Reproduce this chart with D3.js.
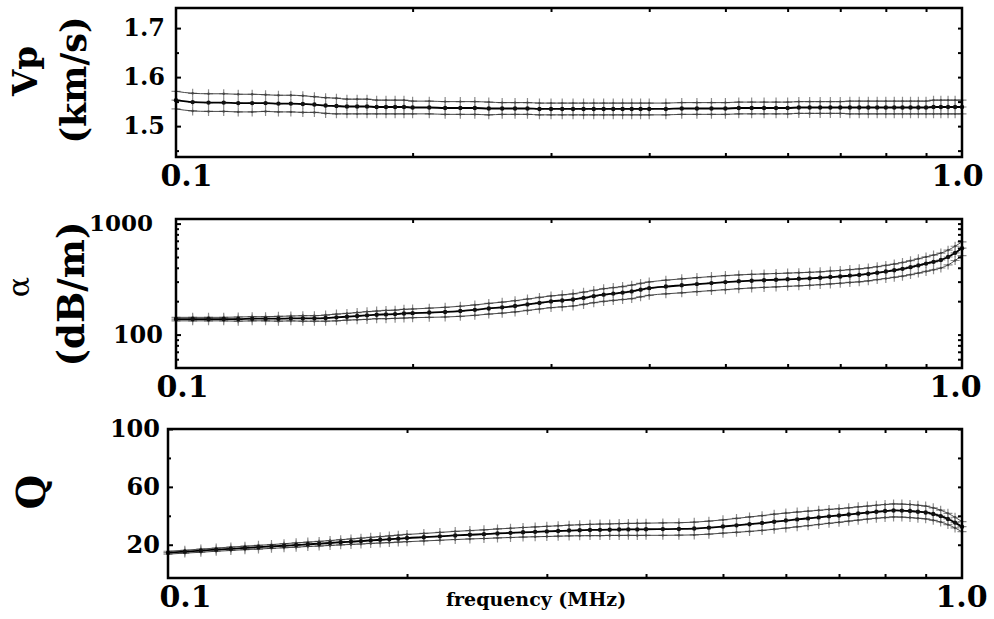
<!DOCTYPE html>
<html>
<head>
<meta charset="utf-8">
<script src="https://cdn.jsdelivr.net/npm/d3@7/dist/d3.min.js"></script>
<style>
  body { margin: 0; background: #fff; }
  svg text { font-family: "DejaVu Serif", serif; font-weight: bold; fill: #000; }
</style>
</head>
<body>
<svg id="chart"></svg>
<script>
// Frequencies of the measured points (MHz)
var freqs = [0.100, 0.105, 0.110, 0.115, 0.120, 0.125, 0.130, 0.135, 0.140, 0.145, 0.150,
  0.155, 0.160, 0.165, 0.170, 0.175, 0.180, 0.185, 0.190, 0.195, 0.200,
  0.21, 0.22, 0.23, 0.24, 0.25, 0.26, 0.27, 0.28, 0.29, 0.30,
  0.31, 0.32, 0.33, 0.34, 0.35, 0.36, 0.37, 0.38, 0.39, 0.40,
  0.42, 0.44, 0.46, 0.48, 0.50, 0.52, 0.54, 0.56, 0.58, 0.60,
  0.62, 0.64, 0.66, 0.68, 0.70, 0.72, 0.74, 0.76, 0.78, 0.80,
  0.82, 0.84, 0.86, 0.88, 0.90, 0.92, 0.94, 0.96, 0.98, 1.00];

// Phase velocity (km/s) and its error
var vpValues = [1.553, 1.549, 1.548, 1.548, 1.547, 1.547, 1.547, 1.546, 1.546, 1.545, 1.544,
  1.542, 1.541, 1.540, 1.540, 1.540, 1.539, 1.539, 1.539, 1.539, 1.538,
  1.538, 1.537, 1.537, 1.537, 1.536, 1.536, 1.536, 1.536, 1.535, 1.535,
  1.535, 1.535, 1.535, 1.535, 1.535, 1.535, 1.535, 1.535, 1.535, 1.535,
  1.535, 1.536, 1.536, 1.536, 1.536, 1.537, 1.537, 1.537, 1.537, 1.537,
  1.538, 1.538, 1.538, 1.538, 1.538, 1.538, 1.538, 1.538, 1.538, 1.538,
  1.538, 1.538, 1.538, 1.538, 1.538, 1.539, 1.539, 1.539, 1.539, 1.539];
var vpErrors = [0.018, 0.018, 0.018, 0.018, 0.018, 0.018, 0.017, 0.017, 0.017, 0.017, 0.016,
  0.016, 0.016, 0.015, 0.015, 0.015, 0.014, 0.014, 0.014, 0.014, 0.013,
  0.013, 0.013, 0.013, 0.013, 0.013, 0.012, 0.012, 0.012, 0.012, 0.012,
  0.012, 0.012, 0.012, 0.012, 0.012, 0.012, 0.012, 0.012, 0.012, 0.012,
  0.012, 0.012, 0.012, 0.012, 0.012, 0.012, 0.012, 0.012, 0.012, 0.012,
  0.012, 0.012, 0.012, 0.012, 0.012, 0.013, 0.013, 0.013, 0.013, 0.013,
  0.013, 0.013, 0.013, 0.013, 0.013, 0.014, 0.014, 0.014, 0.014, 0.014];

// Attenuation (dB/m) and its error
var alphaValues = [138, 138, 138, 138, 138, 139, 139, 139, 140, 140, 140,
  141, 143, 145, 147, 149, 151, 152, 153, 155, 156,
  158, 160, 163, 167, 172, 176, 181, 187, 193, 199,
  203, 207, 214, 222, 229, 234, 239, 245, 254, 262,
  271, 278, 285, 291, 297, 302, 306, 309, 312, 315,
  318, 321, 325, 330, 334, 340, 345, 352, 361, 370,
  380, 391, 405, 420, 436, 452, 470, 500, 545, 600];
var alphaErrors = [5, 5, 5, 5, 6, 6, 6, 7, 7, 8, 8,
  9, 10, 10, 11, 12, 12, 13, 13, 14, 14,
  15, 16, 17, 18, 19, 20, 21, 22, 23, 24,
  25, 26, 27, 28, 30, 31, 32, 34, 35, 36,
  38, 40, 41, 42, 43, 43, 43, 43, 43, 43,
  43, 43, 43, 44, 44, 45, 46, 47, 48, 50,
  52, 55, 58, 62, 65, 68, 72, 76, 80, 85];

// Quality factor and its error
var qValues = [14.5, 15.2, 15.9, 16.6, 17.2, 17.8, 18.3, 18.8, 19.3, 19.8, 20.3,
  20.7, 21.2, 21.7, 22.1, 22.5, 23.0, 23.4, 23.8, 24.2, 24.6,
  25.2, 25.8, 26.4, 26.9, 27.3, 27.8, 28.2, 28.6, 28.9, 29.2,
  29.5, 29.8, 30.0, 30.2, 30.3, 30.4, 30.5, 30.6, 30.6, 30.7,
  30.8, 30.9, 31.2, 31.8, 32.6, 33.4, 34.2, 35.0, 35.9, 36.7,
  37.5, 38.2, 38.9, 39.6, 40.2, 40.9, 41.6, 42.2, 42.8, 43.3,
  43.7, 43.6, 43.3, 42.8, 42.3, 41.2, 39.8, 37.8, 35.3, 32.5];
var qErrors = [1.0, 1.0, 1.1, 1.1, 1.2, 1.2, 1.3, 1.3, 1.4, 1.5, 1.5,
  1.6, 1.7, 1.8, 1.9, 2.0, 2.1, 2.2, 2.3, 2.4, 2.5,
  2.6, 2.7, 2.8, 2.9, 3.0, 3.1, 3.2, 3.3, 3.4, 3.5,
  3.6, 3.7, 3.8, 3.9, 4.0, 4.0, 4.1, 4.1, 4.2, 4.2,
  4.3, 4.3, 4.4, 4.5, 4.6, 4.8, 5.0, 5.1, 5.2, 5.2,
  5.1, 5.0, 4.9, 4.8, 4.7, 4.6, 4.6, 4.5, 4.5, 4.5,
  4.5, 4.5, 4.5, 4.5, 4.4, 4.3, 4.1, 3.9, 3.7, 3.5];

// Tick values
var freqLabelTicks = [0.1, 1.0];
var freqMinorTicks = [0.2, 0.3, 0.4, 0.5, 0.6, 0.7, 0.8, 0.9];
var vpTicks = [1.5, 1.6, 1.7];
var vpMinorTicks = [1.45, 1.55, 1.65];
var alphaTicks = [100, 1000];
var alphaMinorTicks = [60, 70, 80, 90, 200, 300, 400, 500, 600, 700, 800, 900];
var qTicks = [20, 60, 100];
var qMinorTicks = [40, 80];

var width = 994;
var height = 619;

var svg = d3.select('#chart')
  .attr('width', width)
  .attr('height', height);

// Plus-sign marker used for every measured point
var crossPath = 'M-4.5,0H4.5M0,-4.5V4.5';

/**
 * Draws one stacked panel (frame, ticks, curves with error markers).
 */
function drawPanel(p) {
  var x = d3.scaleLog().domain([0.1, 1.0]).range([p.left, p.right]);
  var y = p.y.range([p.bottom, p.top]);

  var rows = freqs.map(function(f, i) {
    return { f: f, v: p.values[i], e: p.errors[i] };
  });

  var g = svg.append('g').classed('panel', true);

  var line = function(acc) {
    return d3.line()
      .x(function(d) { return x(d.f); })
      .y(function(d) { return y(acc(d)); })
      .curve(d3.curveMonotoneX);
  };
  var hi = function(d) { return d.v + d.e; };
  var lo = function(d) { return d.v - d.e; };
  var mid = function(d) { return d.v; };

  // Upper and lower bounds: thin line + grey crosses
  [hi, lo, mid].forEach(function(acc) {
    g.selectAll(null)
      .data(rows)
      .enter()
      .append('path')
      .attr('d', crossPath)
      .attr('transform', function(d) { return 'translate(' + x(d.f) + ',' + y(acc(d)) + ')'; })
      .attr('stroke', '#8c8c8c')
      .attr('stroke-width', 1.2)
      .attr('fill', 'none');
  });

  [hi, lo].forEach(function(acc) {
    g.append('path')
      .datum(rows)
      .attr('d', line(acc))
      .attr('fill', 'none')
      .attr('stroke', '#333')
      .attr('stroke-width', 0.9);

    g.selectAll(null)
      .data(rows)
      .enter()
      .append('circle')
      .attr('cx', function(d) { return x(d.f); })
      .attr('cy', function(d) { return y(acc(d)); })
      .attr('r', 1.2)
      .attr('fill', '#444');
  });

  // Centre curve
  g.append('path')
    .datum(rows)
    .attr('d', line(mid))
    .attr('fill', 'none')
    .attr('stroke', '#000')
    .attr('stroke-width', 1.8);

  g.selectAll(null)
    .data(rows)
    .enter()
    .append('circle')
    .attr('cx', function(d) { return x(d.f); })
    .attr('cy', function(d) { return y(d.v); })
    .attr('r', 2.2)
    .attr('fill', '#111');

  // Frame
  g.append('rect')
    .attr('x', p.left)
    .attr('y', p.top)
    .attr('width', p.right - p.left)
    .attr('height', p.bottom - p.top)
    .attr('fill', 'none')
    .attr('stroke', '#000')
    .attr('stroke-width', 2.5);

  // Inward ticks on all four sides
  var cleanAxis = function(sel) {
    sel.select('.domain').remove();
    sel.selectAll('line').attr('stroke', '#000').attr('stroke-width', 2);
  };
  g.append('g')
    .attr('transform', 'translate(0,' + p.bottom + ')')
    .call(d3.axisBottom(x).tickValues(freqMinorTicks).tickSize(-4).tickFormat(''))
    .call(cleanAxis);
  g.append('g')
    .attr('transform', 'translate(0,' + p.top + ')')
    .call(d3.axisTop(x).tickValues(freqMinorTicks).tickSize(-4).tickFormat(''))
    .call(cleanAxis);
  g.append('g')
    .attr('transform', 'translate(' + p.left + ',0)')
    .call(d3.axisLeft(y).tickValues(p.minorTicks).tickSize(-3).tickFormat(''))
    .call(cleanAxis);
  g.append('g')
    .attr('transform', 'translate(' + p.right + ',0)')
    .call(d3.axisRight(y).tickValues(p.ticks.concat(p.minorTicks)).tickSize(-4).tickFormat(''))
    .call(cleanAxis);

  // Left axis with labels
  var leftAxis = g.append('g')
    .attr('transform', 'translate(' + p.left + ',0)')
    .call(d3.axisLeft(y).tickValues(p.ticks).tickSize(-5).tickPadding(p.labelPad).tickFormat(p.format))
    .call(cleanAxis);
  leftAxis.attr('font-family', null).attr('font-size', null);
  leftAxis.selectAll('text')
    .style('font-size', function(d) { return d >= 1000 ? '23px' : '24px'; })
    .attr('dx', function(d) { return d >= 1000 ? -10 : 0; });

  // Frequency labels 0.1 and 1.0
  var xAxis = g.append('g')
    .attr('transform', 'translate(0,' + p.bottom + ')')
    .call(d3.axisBottom(x).tickValues(freqLabelTicks).tickSize(0).tickPadding(8).tickFormat(d3.format('.1f')))
    .call(cleanAxis);
  xAxis.attr('font-family', null).attr('font-size', null);
  xAxis.selectAll('text')
    .style('font-size', '30px')
    .attr('dx', function(d) { return d < 0.5 ? p.dx0 : p.dx1; });

  // Rotated axis titles
  p.titles.forEach(function(t) {
    g.append('text')
      .attr('transform', 'translate(' + t.x + ',' + t.y + ') rotate(-90)')
      .attr('text-anchor', 'middle')
      .style('font-size', t.size + 'px')
      .style('font-weight', t.weight || 'bold')
      .text(t.text);
  });
}

drawPanel({
  left: 176, right: 962, top: 8, bottom: 157,
  y: d3.scaleLinear().domain([1.437, 1.741]),
  values: vpValues, errors: vpErrors,
  ticks: vpTicks, minorTicks: vpMinorTicks,
  format: d3.format('.1f'), labelPad: 11, dx0: 10, dx1: -5,
  titles: [
    { text: 'Vp', x: 37, y: 71, size: 34 },
    { text: '(km/s)', x: 86, y: 80, size: 35 }
  ]
});

drawPanel({
  left: 176, right: 962, top: 219, bottom: 368,
  y: d3.scaleLog().domain([50, 1100]),
  values: alphaValues, errors: alphaErrors,
  ticks: alphaTicks, minorTicks: alphaMinorTicks,
  format: d3.format('d'), labelPad: 13, dx0: 6, dx1: -7,
  titles: [
    { text: 'α', x: 29, y: 287, size: 30, weight: 'normal' },
    { text: '(dB/m)', x: 84, y: 294, size: 37 }
  ]
});

drawPanel({
  left: 168, right: 962, top: 429, bottom: 578,
  y: d3.scaleLinear().domain([-3, 100]),
  values: qValues, errors: qErrors,
  ticks: qTicks, minorTicks: qMinorTicks,
  format: d3.format('d'), labelPad: 8, dx0: 17, dx1: -1,
  titles: [
    { text: 'Q', x: 45, y: 492, size: 40 }
  ]
});

// x axis title
svg.append('text')
  .attr('x', 536)
  .attr('y', 606)
  .attr('text-anchor', 'middle')
  .style('font-size', '19px')
  .text('frequency (MHz)');
</script>
</body>
</html>
